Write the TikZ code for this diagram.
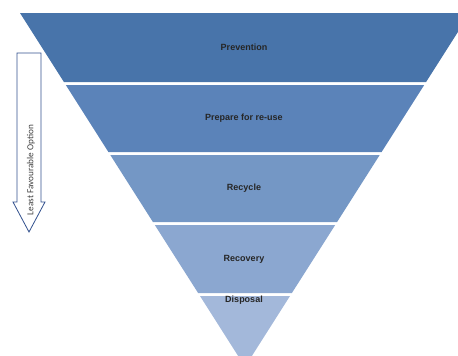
\documentclass[tikz,border=0pt]{standalone}
\usepackage{fontspec}
\setmainfont{Liberation Sans}
\newfontfamily\notefont{Carlito}
\usetikzlibrary{positioning}

\definecolor{bandA}{HTML}{4874AA}
\definecolor{bandB}{HTML}{5B83B9}
\definecolor{bandC}{HTML}{7497C5}
\definecolor{bandD}{HTML}{8BA7D0}
\definecolor{bandE}{HTML}{A3B8DA}
\definecolor{arrowline}{HTML}{34528F}

\tikzstyle{tier} = [font=\fontsize{9}{10}\selectfont\bfseries, text=black!85, inner sep=0pt]
\tikzstyle{bigarrow} = [draw=arrowline, line width=0.8pt, fill=white, line join=miter]

\begin{document}
\begin{tikzpicture}[x=1pt, y=-1pt]
\useasboundingbox[clip] (0,0) rectangle (458,356);

% pyramid bands
\fill[bandA] (20,13) -- (470,13) -- (426.1,82) -- (63.9,82) -- cycle;
\fill[bandB] (65.8,85) -- (424.2,85) -- (381.6,152) -- (108.4,152) -- cycle;
\fill[bandC] (110.3,155) -- (379.7,155) -- (337.1,222) -- (152.9,222) -- cycle;
\fill[bandD] (154.8,225) -- (335.2,225) -- (291.9,293) -- (198.1,293) -- cycle;
\fill[bandE] (200,296) -- (290,296) -- (245,366.8) -- cycle;

\node (prevention) [tier] at (244,47) {Prevention};
\node (reuse) [tier] at (244,118) {Prepare for re-use};
\node (recycle) [tier] at (244,188) {Recycle};
\node (recovery) [tier] at (244,259) {Recovery};
\node (disposal) [tier] at (244,300) {Disposal};

% side arrow
\draw[bigarrow] (17,53) -- (41,53) -- (41,202) -- (45,202) -- (29,232) -- (13,202) -- (17,202) -- cycle;
\node (leastlabel) [rotate=90, font=\notefont\fontsize{9.2}{10}\selectfont, text=black!75, inner sep=0pt] at (31,170) {Least Favourable Option};
\end{tikzpicture}
\end{document}
